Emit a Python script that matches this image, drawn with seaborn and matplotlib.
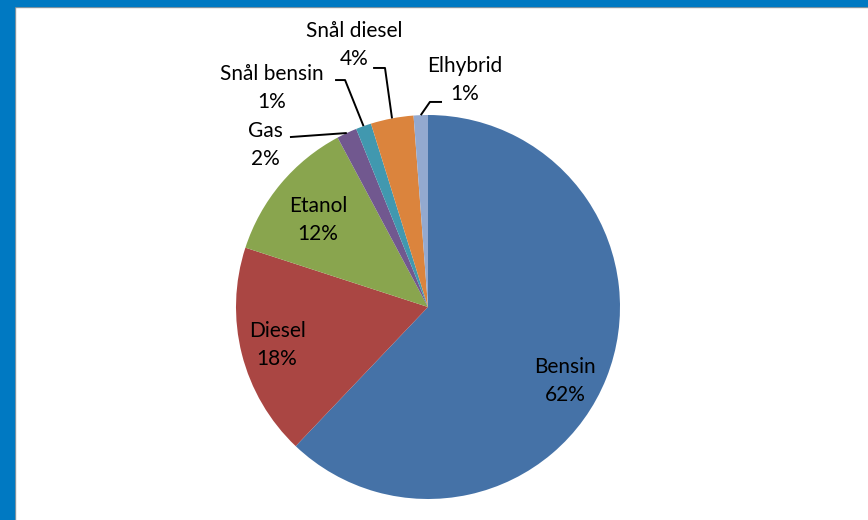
import matplotlib
matplotlib.use("Agg")
import matplotlib.pyplot as plt
import seaborn as sns
from matplotlib.patches import Rectangle
import numpy as np

# andel nya bilar per drivmedel (%)
categories = ["Bensin", "Diesel", "Etanol", "Gas", "Snål bensin", "Snål diesel", "Elhybrid"]
shares = [62.1, 17.9, 12.2, 1.7, 1.3, 3.6, 1.2]
colors = ["#4572A7", "#AA4643", "#89A54E", "#71588F", "#4198AF", "#DB843D", "#93A9CF"]

# label placement (pie radius = 1), and leader line start points for the small slices
label_pos = {
    "Bensin": (0.714, -0.385),
    "Diesel": (-0.786, -0.198),
    "Etanol": (-0.573, 0.453),
    "Gas": (-0.849, 0.844),
    "Snål bensin": (-0.8125, 1.141),
    "Snål diesel": (-0.385, 1.365),
    "Elhybrid": (0.193, 1.182),
}
leader_start = {
    "Gas": [(-0.719, 0.885)],
    "Snål bensin": [(-0.484, 1.182), (-0.432, 1.182)],
    "Snål diesel": [(-0.286, 1.245), (-0.224, 1.245)],
    "Elhybrid": [(0.073, 1.068), (0.010, 1.068)],
}

sns.set_theme(style="white")
plt.rcParams["font.family"] = ["Lato", "DejaVu Sans"]

W, H = 868, 520
fig = plt.figure(figsize=(W / 100, H / 100), dpi=100)
fig.patch.set_facecolor("white")

# slide frame: blue band on top and left with a thin grey edge
fig.patches.append(Rectangle((0, 1 - 7 / H), 1, 7 / H, transform=fig.transFigure, color="#9a9a9a", zorder=0))
fig.patches.append(Rectangle((0, 1 - 6 / H), 1, 6 / H, transform=fig.transFigure, color="#0079C2", zorder=1))
fig.patches.append(Rectangle((0, 0), 15 / W, 1, transform=fig.transFigure, color="#9a9a9a", zorder=0))
fig.patches.append(Rectangle((0, 0), 14 / W, 1, transform=fig.transFigure, color="#0079C2", zorder=1))

ax = fig.add_axes([0, 0, 1, 1])
cx, cy, r = 428, 307, 192
ax.axis("off")
ax.patch.set_alpha(0)

wedges, _ = ax.pie(shares, colors=sns.color_palette(colors), startangle=90, counterclock=False,
                   radius=1, center=(0, 0), wedgeprops=dict(linewidth=0), frame=False)
ax.set_xlim((0 - cx) / r, (W - cx) / r)
ax.set_ylim((cy - H) / r, cy / r)
ax.set_aspect("auto")

for name, val, w in zip(categories, shares, wedges):
    x, y = label_pos[name]
    ax.text(x, y, f"{name}\n{val:.0f}%", ha="center", va="center", fontsize=15,
            color="black", linespacing=1.55)
    if name in leader_start:
        mid = np.deg2rad((w.theta1 + w.theta2) / 2)
        pts = leader_start[name] + [(np.cos(mid), np.sin(mid))]
        xs, ys = zip(*pts)
        ax.plot(xs, ys, color="black", linewidth=1.4, solid_capstyle="butt")

fig.savefig("out.png", dpi=100)
